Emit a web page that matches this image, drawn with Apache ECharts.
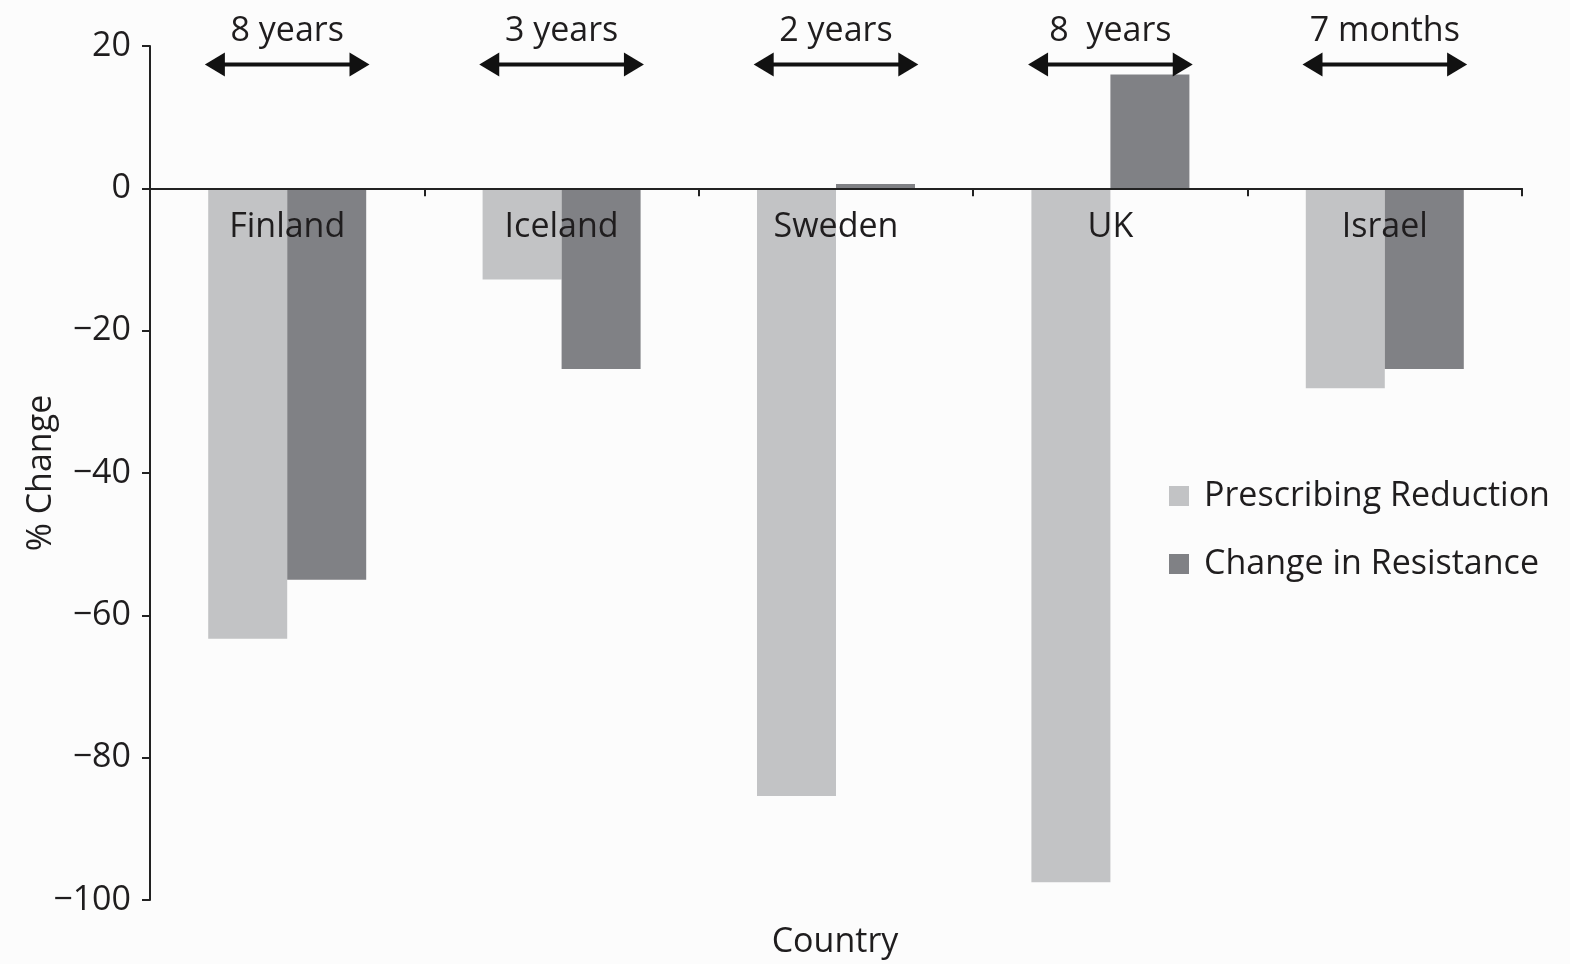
<!DOCTYPE html>
<html>
<head>
<meta charset="utf-8">
<title>Prescribing reduction and change in resistance</title>
<script src="https://cdn.jsdelivr.net/npm/echarts@6/dist/echarts.min.js"></script>
<style>
  html, body { margin: 0; padding: 0; background: #ffffff; }
  #chart { width: 1570px; height: 964px; }
</style>
</head>
<body>
<div id="chart"></div>
<script>
// Countries on the category axis
const countries = ['Finland', 'Iceland', 'Sweden', 'UK', 'Israel'];
// % change in antibiotic prescribing
const prescribingReduction = [-63.3, -12.8, -85.4, -97.5, -28.1];
// % change in resistance over the same period
const changeInResistance = [-55.0, -25.4, 0.6, 16.0, -25.4];
// Length of each intervention period
const periods = ['8 years', '3 years', '2 years', '8  years', '7 months'];
// Value axis ticks
const yMin = -100, yMax = 20, yStep = 20;

const FONT = '"Open Sans", "Noto Sans", sans-serif';
const INK = '#1f1d1e';
const LIGHT = '#c2c3c5';
const DARK = '#808185';
const GRID = { left: 150, right: 48, top: 46, bottom: 64 };
const HEIGHT = 964;

const chart = echarts.init(document.getElementById('chart'), null, { renderer: 'canvas' });

// Double-headed arrow with the period label above it, spanning part of a category
function renderPeriod(params, api) {
  const idx = api.value(0);
  const mid = api.coord([idx, 17.4]);
  const bandW = api.size([1, 0])[0];
  const half = bandW * 0.3;
  const head = 20, headHalf = 12;
  const x0 = mid[0] - half, x1 = mid[0] + half, y = mid[1];
  const textPos = api.coord([idx, 22.1]);
  return {
    type: 'group',
    children: [
      { type: 'line', shape: { x1: x0 + head - 2, y1: y, x2: x1 - head + 2, y2: y },
        style: { stroke: '#111111', lineWidth: 4 } },
      { type: 'polygon', shape: { points: [[x0, y], [x0 + head, y - headHalf], [x0 + head, y + headHalf]] },
        style: { fill: '#111111' } },
      { type: 'polygon', shape: { points: [[x1, y], [x1 - head, y - headHalf], [x1 - head, y + headHalf]] },
        style: { fill: '#111111' } },
      { type: 'text', x: textPos[0], y: textPos[1],
        style: { text: periods[params.dataIndex], fill: INK, font: '34px ' + FONT,
                 align: 'center', verticalAlign: 'middle' } }
    ]
  };
}

const option = {
  backgroundColor: '#fcfcfc',
  animation: false,
  textStyle: { fontFamily: FONT, color: INK },
  title: {
    text: 'Country',
    left: 835, textAlign: 'center',
    top: 925, padding: 0,
    textStyle: { fontFamily: FONT, fontSize: 34, fontWeight: 'normal', color: INK }
  },
  grid: GRID,
  legend: {
    data: ['Prescribing Reduction', 'Change in Resistance'],
    orient: 'vertical',
    left: 1164, top: 472,
    icon: 'rect', itemWidth: 20, itemHeight: 20, itemGap: 30,
    textStyle: { fontFamily: FONT, fontSize: 34, color: INK, padding: [0, 0, 0, 10], lineHeight: 38 }
  },
  xAxis: {
    type: 'category',
    data: countries,
    position: 'bottom',
    offset: 0,
    axisLine: { onZero: false, lineStyle: { color: '#222222', width: 2 } },
    axisTick: { show: true, length: 8, lineStyle: { color: '#222222', width: 2 } },
    axisLabel: { fontFamily: FONT, fontSize: 34, color: INK, margin: 22 },
    z: 5
  },
  yAxis: {
    type: 'value',
    min: yMin, max: yMax, interval: yStep,
    name: '% Change',
    nameLocation: 'middle',
    nameGap: 92,
    nameMoveOverlap: false,
    nameTextStyle: { fontFamily: FONT, fontSize: 34, color: INK },
    axisLine: { show: true, lineStyle: { color: '#222222', width: 2 } },
    axisTick: { show: true, length: 8, lineStyle: { color: '#222222', width: 2 } },
    axisLabel: {
      fontFamily: FONT, fontSize: 34, color: INK, margin: 19,
      formatter: v => (v < 0 ? '\u2212' + Math.abs(v) : String(v))
    },
    splitLine: { show: false }
  },
  series: [
    {
      name: 'Prescribing Reduction', type: 'bar',
      data: prescribingReduction, barWidth: 79, barGap: '0%',
      itemStyle: { color: LIGHT }
    },
    {
      name: 'Change in Resistance', type: 'bar',
      data: changeInResistance, barWidth: 79, barGap: '0%',
      itemStyle: { color: DARK }
    },
    {
      name: 'Period', type: 'custom',
      data: periods.map((p, i) => [i]),
      encode: { x: 0 },
      renderItem: renderPeriod,
      clip: false, silent: true, z: 10
    }
  ]
};

chart.setOption(option);

// Move the category axis (line, ticks and country names) up to the zero line
const zeroY = chart.convertToPixel({ yAxisIndex: 0 }, 0);
const gridBottomY = HEIGHT - GRID.bottom;
chart.setOption({ xAxis: { offset: zeroY - gridBottomY } });
</script>
</body>
</html>
